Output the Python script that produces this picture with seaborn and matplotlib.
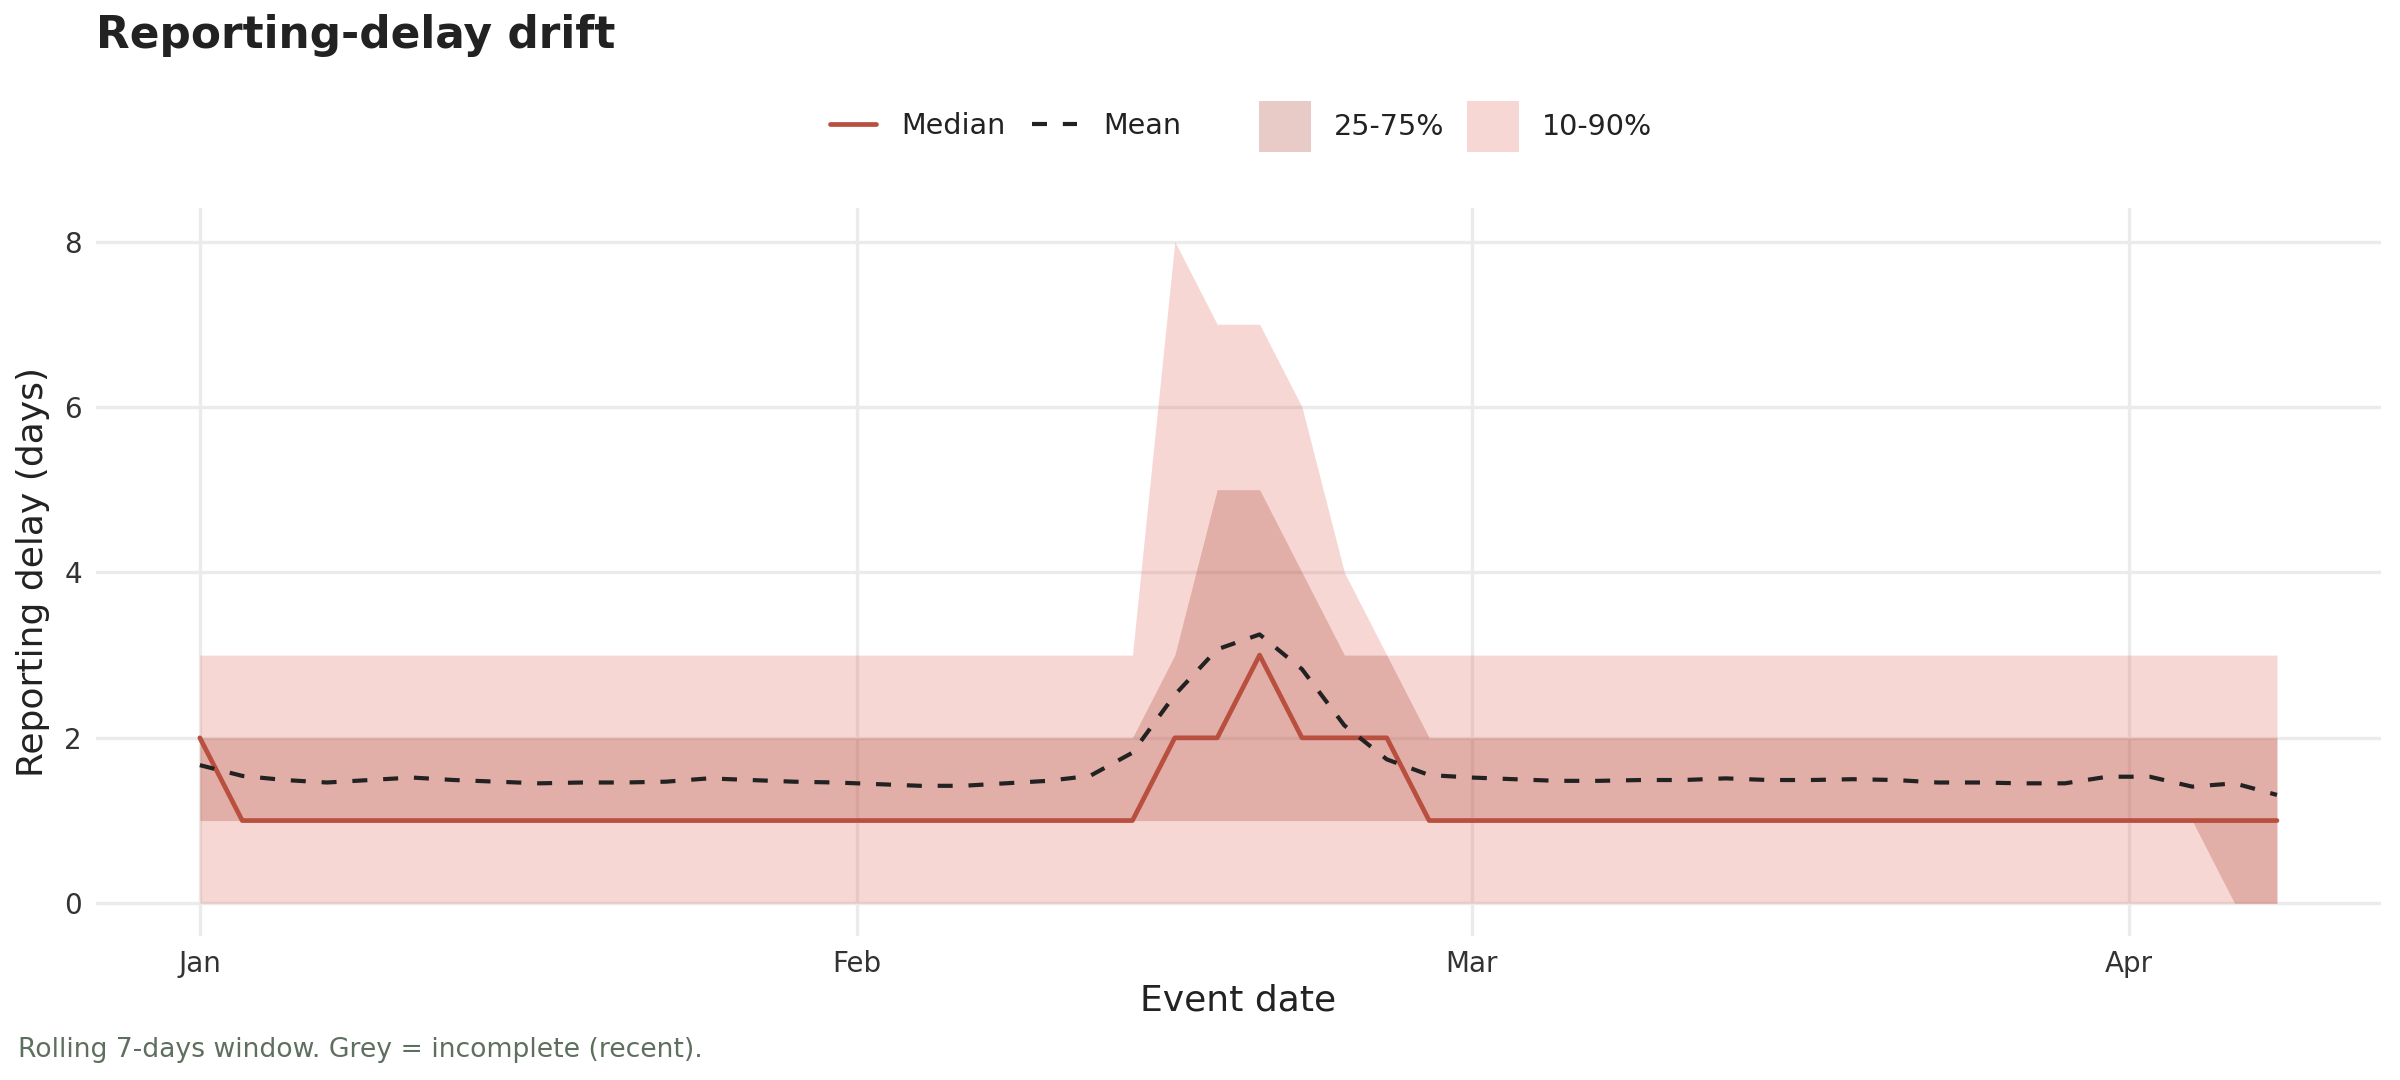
import matplotlib
matplotlib.use('Agg')
import numpy as np
import pandas as pd
import seaborn as sns
import matplotlib.pyplot as plt
from matplotlib.lines import Line2D
from matplotlib.patches import Patch

# event dates, every 2 days from 1 Jan to 8 Apr 2024
dates = pd.date_range('2024-01-01', '2024-04-08', freq='2D')

median_delay = [2, 1, 1, 1, 1, 1, 1, 1, 1, 1,
                1, 1, 1, 1, 1, 1, 1, 1, 1, 1,
                1, 1, 1, 2, 2, 3, 2, 2, 2, 1,
                1, 1, 1, 1, 1, 1, 1, 1, 1, 1,
                1, 1, 1, 1, 1, 1, 1, 1, 1, 1]
mean_delay = [1.67, 1.54, 1.49, 1.46, 1.49, 1.52, 1.49, 1.47, 1.45, 1.46,
              1.46, 1.47, 1.51, 1.49, 1.47, 1.46, 1.44, 1.42, 1.42, 1.45,
              1.48, 1.54, 1.82, 2.52, 3.07, 3.25, 2.83, 2.15, 1.74, 1.55,
              1.52, 1.50, 1.48, 1.48, 1.49, 1.49, 1.51, 1.49, 1.49, 1.50,
              1.49, 1.46, 1.46, 1.45, 1.45, 1.53, 1.53, 1.41, 1.45, 1.31]
q25 = [1, 1, 1, 1, 1, 1, 1, 1, 1, 1,
       1, 1, 1, 1, 1, 1, 1, 1, 1, 1,
       1, 1, 1, 1, 1, 1, 1, 1, 1, 1,
       1, 1, 1, 1, 1, 1, 1, 1, 1, 1,
       1, 1, 1, 1, 1, 1, 1, 1, 0, 0]
q75 = [2, 2, 2, 2, 2, 2, 2, 2, 2, 2,
       2, 2, 2, 2, 2, 2, 2, 2, 2, 2,
       2, 2, 2, 3, 5, 5, 4, 3, 3, 2,
       2, 2, 2, 2, 2, 2, 2, 2, 2, 2,
       2, 2, 2, 2, 2, 2, 2, 2, 2, 2]
q10 = [0] * 50
q90 = [3, 3, 3, 3, 3, 3, 3, 3, 3, 3,
       3, 3, 3, 3, 3, 3, 3, 3, 3, 3,
       3, 3, 3, 8, 7, 7, 6, 4, 3, 3,
       3, 3, 3, 3, 3, 3, 3, 3, 3, 3,
       3, 3, 3, 3, 3, 3, 3, 3, 3, 3]

df = pd.DataFrame({'date': dates, 'median': median_delay, 'mean': mean_delay,
                   'q10': q10, 'q25': q25, 'q75': q75, 'q90': q90})

RED = '#b9503f'
OUTER = '#dc5a4a'
INNER = '#b45046'

sns.set_theme(style='whitegrid')
plt.rcParams['font.family'] = ['DejaVu Sans']

fig = plt.figure(figsize=(12, 5.4), dpi=200)
ax = fig.add_axes([0.040, 0.133, 0.952, 0.674])

ax.fill_between(df['date'], df['q10'], df['q90'], color=OUTER, alpha=0.24, lw=0)
ax.fill_between(df['date'], df['q25'], df['q75'], color=INNER, alpha=0.30, lw=0)
sns.lineplot(data=df, x='date', y='median', ax=ax, color=RED, lw=1.7)
sns.lineplot(data=df, x='date', y='mean', ax=ax, color='#222222', lw=1.5,
             linestyle=(0, (3.6, 3.8)))

ax.set_ylim(-0.4, 8.4)
ax.set_xlim(dates[0] - pd.Timedelta(days=4.9), dates[-1] + pd.Timedelta(days=4.9))
ax.set_yticks([0, 2, 4, 6, 8])
month_ticks = pd.to_datetime(['2024-01-01', '2024-02-01', '2024-03-01', '2024-04-01'])
ax.set_xticks(month_ticks)
ax.set_xticklabels(['Jan', 'Feb', 'Mar', 'Apr'])
ax.tick_params(axis='both', length=0, labelsize=10, colors='#333333', pad=5)
ax.grid(True, color='#ebebeb', lw=1.2)
ax.set_axisbelow(True)
for s in ax.spines.values():
    s.set_visible(False)
ax.set_xlabel('Event date', fontsize=13, color='#222222', labelpad=2)
ax.set_ylabel('Reporting delay (days)', fontsize=13, color='#222222', labelpad=5)

fig.text(0.040, 0.967, 'Reporting-delay drift', fontsize=15.8, fontweight='bold',
         color='#222222', ha='left', va='center')

line_handles = [Line2D([], [], color=RED, lw=1.7),
                Line2D([], [], color='#222222', lw=1.5, linestyle=(0, (3.6, 3.8)))]
leg1 = fig.legend(line_handles, ['Median', 'Mean'], loc='center',
                  bbox_to_anchor=(0.419, 0.883), ncol=2, frameon=False,
                  fontsize=10.3, handlelength=1.6, handletextpad=0.9, columnspacing=0.9)
patch_handles = [Patch(facecolor=INNER, alpha=0.30, lw=0),
                 Patch(facecolor=OUTER, alpha=0.24, lw=0)]
leg2 = fig.legend(patch_handles, ['25-75%', '10-90%'], loc='center',
                  bbox_to_anchor=(0.6065, 0.883), ncol=2, frameon=False,
                  fontsize=10.3, handlelength=1.8, handleheight=2.4,
                  handletextpad=0.8, columnspacing=0.8)
for leg in (leg1, leg2):
    for t in leg.get_texts():
        t.set_color('#222222')

fig.text(0.0077, 0.028, 'Rolling 7-days window. Grey = incomplete (recent).',
         fontsize=9.6, color='#5f6f5f', ha='left', va='center')

fig.savefig('out.png', dpi=200)
